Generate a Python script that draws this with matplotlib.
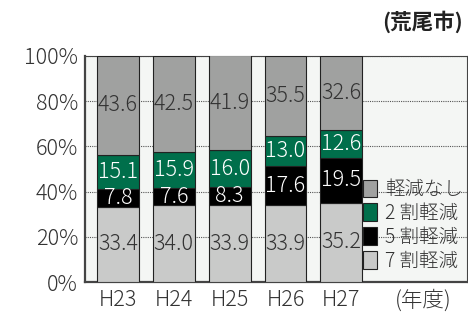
import numpy as np
import matplotlib.pyplot as plt

plt.rcParams['font.family'] = ['Noto Sans CJK JP', 'DejaVu Sans']
plt.rcParams['font.weight'] = 'light'

years = ["H23", "H24", "H25", "H26", "H27"]
red70 = [33.4, 34.0, 33.9, 33.9, 35.2]   # 7割軽減
red50 = [7.8, 7.6, 8.3, 17.6, 19.5]      # 5割軽減
red20 = [15.1, 15.9, 16.0, 13.0, 12.6]   # 2割軽減
none_ = [43.6, 42.5, 41.9, 35.5, 32.6]   # 軽減なし

series = [
    ("7 割軽減", red70, "#c9cac9", "#333333"),
    ("5 割軽減", red50, "#000000", "#ffffff"),
    ("2 割軽減", red20, "#006f4b", "#ffffff"),
    ("軽減なし", none_, "#a0a1a0", "#333333"),
]

fig = plt.figure(figsize=(4.68, 3.13), dpi=100)
ax = fig.add_axes([85/468, 30.7/313, 382/468, 226.6/313])
ax.set_facecolor("#f4f6f4")

x = np.arange(len(years))
bottom = np.zeros(len(years))
handles = []
for name, vals, col, tcol in series:
    vals = np.array(vals)
    b = ax.bar(x, vals, 0.75, bottom=bottom, color=col, edgecolor="#222222",
               linewidth=0.8, zorder=3, label=name)
    handles.append(b)
    for xi, v, bt in zip(x, vals, bottom):
        ax.text(xi, bt + v/2, f"{v:.1f}", ha="center", va="center",
                fontsize=15.5, color=tcol, zorder=4)
    bottom += vals

ax.set_xlim(-0.59, 6.25)
ax.set_ylim(0, 100)
ax.set_yticks([0, 20, 40, 60, 80, 100])
ax.set_yticklabels(["0%", "20%", "40%", "60%", "80%", "100%"])
ax.set_xticks(list(x) + [5.47])
ax.set_xticklabels(years + ["(年度)"])
ax.tick_params(length=0, labelsize=15.5, labelcolor="#333333", pad=5)
ax.yaxis.grid(True, linestyle=(0, (1, 1)), color="#555555", linewidth=0.8, zorder=1)

for s in ["left", "bottom"]:
    ax.spines[s].set_color("#444444")
    ax.spines[s].set_linewidth(1.6)
for s in ["top", "right"]:
    ax.spines[s].set_color("#444444")
    ax.spines[s].set_linewidth(0.8)

leg = ax.legend(handles[::-1], [s[0] for s in series][::-1], loc="lower right",
                bbox_to_anchor=(1.0, 0.03), frameon=False, fontsize=14,
                handlelength=0.72, handleheight=1.0, handletextpad=0.4,
                labelspacing=0.15, borderaxespad=0.0, borderpad=0.2,
                labelcolor="#333333")

fig.text(0.99, 0.93, "(荒尾市)", ha="right", va="center", fontsize=15.5,
         fontweight="bold", color="#222222")

fig.savefig("out.png", dpi=100)
